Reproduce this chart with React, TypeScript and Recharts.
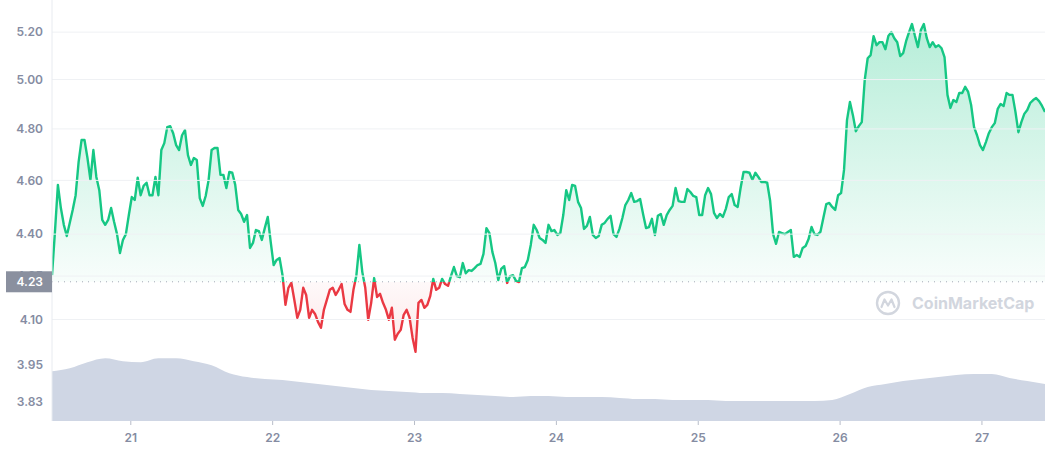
import { ComposedChart, Area, XAxis, YAxis, ReferenceLine } from 'recharts';

// 7-day price, one point every 30 minutes, first point on the 20th at 10:40
const startDay = 20 + (10 * 60 + 40) / 1440;
const stepDays = 1 / 48;

const prices = [
    4.253, 4.408, 4.583, 4.496, 4.434, 4.393, 4.441, 4.489, 4.544, 4.670, 4.756, 4.756,
    4.686, 4.602, 4.717, 4.613, 4.563, 4.452, 4.434, 4.452, 4.496, 4.445, 4.400, 4.332,
    4.379, 4.400, 4.470, 4.537, 4.526, 4.610, 4.544, 4.579, 4.591, 4.544, 4.544, 4.613,
    4.544, 4.717, 4.744, 4.807, 4.811, 4.783, 4.736, 4.717, 4.775, 4.795, 4.697, 4.659,
    4.686, 4.678, 4.533, 4.504, 4.541, 4.602, 4.717, 4.725, 4.725, 4.621, 4.621, 4.571,
    4.632, 4.629, 4.583, 4.489, 4.474, 4.445, 4.470, 4.350, 4.368, 4.415, 4.411, 4.379,
    4.422, 4.463, 4.372, 4.289, 4.307, 4.314, 4.253, 4.150, 4.209, 4.226, 4.167, 4.106,
    4.133, 4.209, 4.184, 4.106, 4.133, 4.119, 4.092, 4.072, 4.133, 4.167, 4.202, 4.209,
    4.184, 4.202, 4.222, 4.153, 4.133, 4.126, 4.202, 4.253, 4.361, 4.264, 4.209, 4.099,
    4.157, 4.243, 4.177, 4.188, 4.157, 4.133, 4.099, 4.140, 4.032, 4.052, 4.065, 4.116,
    4.133, 4.106, 4.039, 3.992, 4.157, 4.167, 4.140, 4.150, 4.181, 4.240, 4.202, 4.209,
    4.240, 4.222, 4.216, 4.250, 4.282, 4.250, 4.246, 4.296, 4.260, 4.271, 4.268, 4.278,
    4.289, 4.293, 4.329, 4.422, 4.404, 4.336, 4.296, 4.236, 4.275, 4.285, 4.226, 4.250,
    4.253, 4.233, 4.229, 4.278, 4.282, 4.307, 4.361, 4.434, 4.415, 4.386, 4.379, 4.368,
    4.434, 4.411, 4.415, 4.397, 4.404, 4.470, 4.563, 4.526, 4.583, 4.579, 4.519, 4.496,
    4.419, 4.430, 4.463, 4.397, 4.386, 4.393, 4.434, 4.441, 4.456, 4.467, 4.400, 4.390,
    4.419, 4.459, 4.507, 4.526, 4.552, 4.519, 4.522, 4.530, 4.474, 4.422, 4.426, 4.456,
    4.397, 4.467, 4.474, 4.434, 4.470, 4.489, 4.504, 4.571, 4.522, 4.519, 4.519, 4.567,
    4.556, 4.541, 4.537, 4.470, 4.470, 4.544, 4.571, 4.548, 4.478, 4.459, 4.474, 4.463,
    4.493, 4.537, 4.548, 4.507, 4.500, 4.571, 4.632, 4.632, 4.629, 4.602, 4.629, 4.613,
    4.594, 4.594, 4.591, 4.522, 4.400, 4.365, 4.408, 4.404, 4.400, 4.408, 4.415, 4.318,
    4.325, 4.318, 4.350, 4.357, 4.382, 4.426, 4.400, 4.397, 4.408, 4.459, 4.511, 4.515,
    4.500, 4.489, 4.544, 4.552, 4.640, 4.835, 4.908, 4.855, 4.791, 4.811, 4.827, 4.998,
    5.089, 5.102, 5.183, 5.144, 5.157, 5.157, 5.127, 5.183, 5.200, 5.174, 5.157, 5.098,
    5.110, 5.161, 5.200, 5.235, 5.183, 5.136, 5.209, 5.235, 5.174, 5.136, 5.157, 5.136,
    5.144, 5.131, 5.094, 4.937, 4.884, 4.916, 4.908, 4.945, 4.945, 4.970, 4.949, 4.896,
    4.807, 4.775, 4.736, 4.717, 4.748, 4.783, 4.807, 4.823, 4.880, 4.900, 4.892, 4.945,
    4.937, 4.937, 4.868, 4.787, 4.827, 4.860, 4.876, 4.904, 4.916, 4.924, 4.912, 4.892,
    4.868,
];

// volume (millions), one value every 3 hours
const volumeEvery = 6;
const volumes = [
    200, 212, 236, 252, 240, 236, 252, 252, 240, 224, 192, 176, 168, 164, 156, 148,
    140, 132, 124, 120, 116, 112, 112, 108, 104, 100, 96, 100, 100, 96, 96, 96,
    92, 88, 88, 84, 84, 84, 80, 80, 80, 80, 80, 80, 84, 108, 136, 148,
    160, 168, 176, 184, 188, 188, 172, 160, 148,
];

const dayTicks = [21, 22, 23, 24, 25, 26, 27];
const priceTicks = [5.2, 5.0, 4.8, 4.6, 4.4, 4.25, 4.1, 3.95, 3.83];
const gridTicks = [5.2, 5.0, 4.8, 4.6, 4.4, 4.25, 4.1];
const baseline = 4.23;
const priceDomain: [number, number] = [3.77, 5.34];

const W = 1045;
const H = 450;
const AXIS_W = 52;
const XAXIS_H = 29;
const plotBottom = H - XAXIS_H;

const GREEN = '#16c784';
const RED = '#ea3943';
const LABEL = '#858ca2';

const priceData = prices.map((p, i) => ({ t: startDay + i * stepDays, price: p }));
const volumeData = volumes.map((v, j) => ({ t: startDay + j * volumeEvery * stepDays, volume: v }));
const volMax = Math.max(...volumes) * 6.7;

// where the baseline sits, as a fraction of the plot height (log axis)
const lg = Math.log;
const baseFrac = (lg(priceDomain[1]) - lg(baseline)) / (lg(priceDomain[1]) - lg(priceDomain[0]));

function PriceTick({ x, y, payload }: any) {
    const v = payload.value as number;
    const font = { fontSize: 12, fontWeight: 600, fontFamily: 'Inter' };
    if (v === baseline) {
        return (
            <g>
                <rect x={x - 37} y={y - 10.5} width={46} height={21} fill="#8a909f" />
                <text x={x} y={y} dy="0.355em" textAnchor="end" fill="#fff" {...font}>{v.toFixed(2)}</text>
            </g>
        );
    }
    return <text x={x} y={y} dy="0.355em" textAnchor="end" fill={LABEL} {...font}>{v.toFixed(2)}</text>;
}

function Watermark() {
    const c = '#d2d6de';
    return (
        <svg width={170} height={28} style={{ position: 'absolute', left: 875, top: 289 }}>
            <circle cx={13} cy={14} r={11} fill="none" stroke={c} strokeWidth={2.4} />
            <path d="M6.5 18 L9.5 10.5 L13 16.5 L16.5 10.5 L19.5 18" fill="none" stroke={c} strokeWidth={2.2}
                strokeLinejoin="round" strokeLinecap="round" />
            <text x={37} y={14} dy="0.36em" fontSize={16} fontWeight={700} fontFamily="Inter" fill={c}>
                CoinMarketCap
            </text>
        </svg>
    );
}

export default function App() {
    return (
        <div style={{ position: 'absolute', left: 0, top: 0, width: W, height: H, background: '#fff' }}>
            <ComposedChart width={W} height={H} data={priceData} margin={{ top: 0, right: 0, bottom: 0, left: 0 }}>
                <defs>
                    <linearGradient id="priceStroke" gradientUnits="userSpaceOnUse" x1="0" y1="0" x2="0" y2={plotBottom}>
                        <stop offset={baseFrac} stopColor={GREEN} />
                        <stop offset={baseFrac} stopColor={RED} />
                    </linearGradient>
                    <linearGradient id="priceFill" gradientUnits="userSpaceOnUse" x1="0" y1="0" x2="0" y2={plotBottom}>
                        <stop offset={0} stopColor={GREEN} stopOpacity={0.34} />
                        <stop offset={baseFrac} stopColor={GREEN} stopOpacity={0.03} />
                        <stop offset={baseFrac} stopColor={RED} stopOpacity={0.03} />
                        <stop offset={1} stopColor={RED} stopOpacity={0.22} />
                    </linearGradient>
                </defs>
                <XAxis dataKey="t" type="number" domain={[startDay, startDay + (prices.length - 1) * stepDays]}
                    ticks={dayTicks} height={XAXIS_H} axisLine={false} tickSize={4} tickMargin={8}
                    tickLine={{ stroke: '#b8bdc9' }} allowDataOverflow
                    tick={{ fill: LABEL, fontSize: 12, fontWeight: 600, fontFamily: 'Inter' }} />
                <YAxis yAxisId="price" scale="log" domain={priceDomain} allowDataOverflow ticks={[...priceTicks, baseline]}
                    interval={0} width={AXIS_W} tickSize={0} tickMargin={9} tickLine={false}
                    axisLine={{ stroke: '#e8ebf0' }} tick={(p: any) => <PriceTick {...p} />} />
                <YAxis yAxisId="vol" hide domain={[0, volMax]} />
                {gridTicks.map((v) => (
                    <ReferenceLine key={v} yAxisId="price" y={v} stroke="#eff1f4" strokeWidth={1} />
                ))}
                <Area yAxisId="vol" data={volumeData} dataKey="volume" type="monotone" stroke="none"
                    fill="#cfd6e4" fillOpacity={1} isAnimationActive={false} dot={false} activeDot={false} />
                <ReferenceLine yAxisId="price" y={baseline} stroke="#a3a9b7" strokeDasharray="1 5" strokeWidth={1} />
                <Area yAxisId="price" dataKey="price" type="linear" baseValue={baseline}
                    stroke="url(#priceStroke)" strokeWidth={2.4} strokeLinejoin="round" fill="url(#priceFill)"
                    fillOpacity={1} isAnimationActive={false} dot={false} activeDot={false} />
            </ComposedChart>
            <Watermark />
        </div>
    );
}
